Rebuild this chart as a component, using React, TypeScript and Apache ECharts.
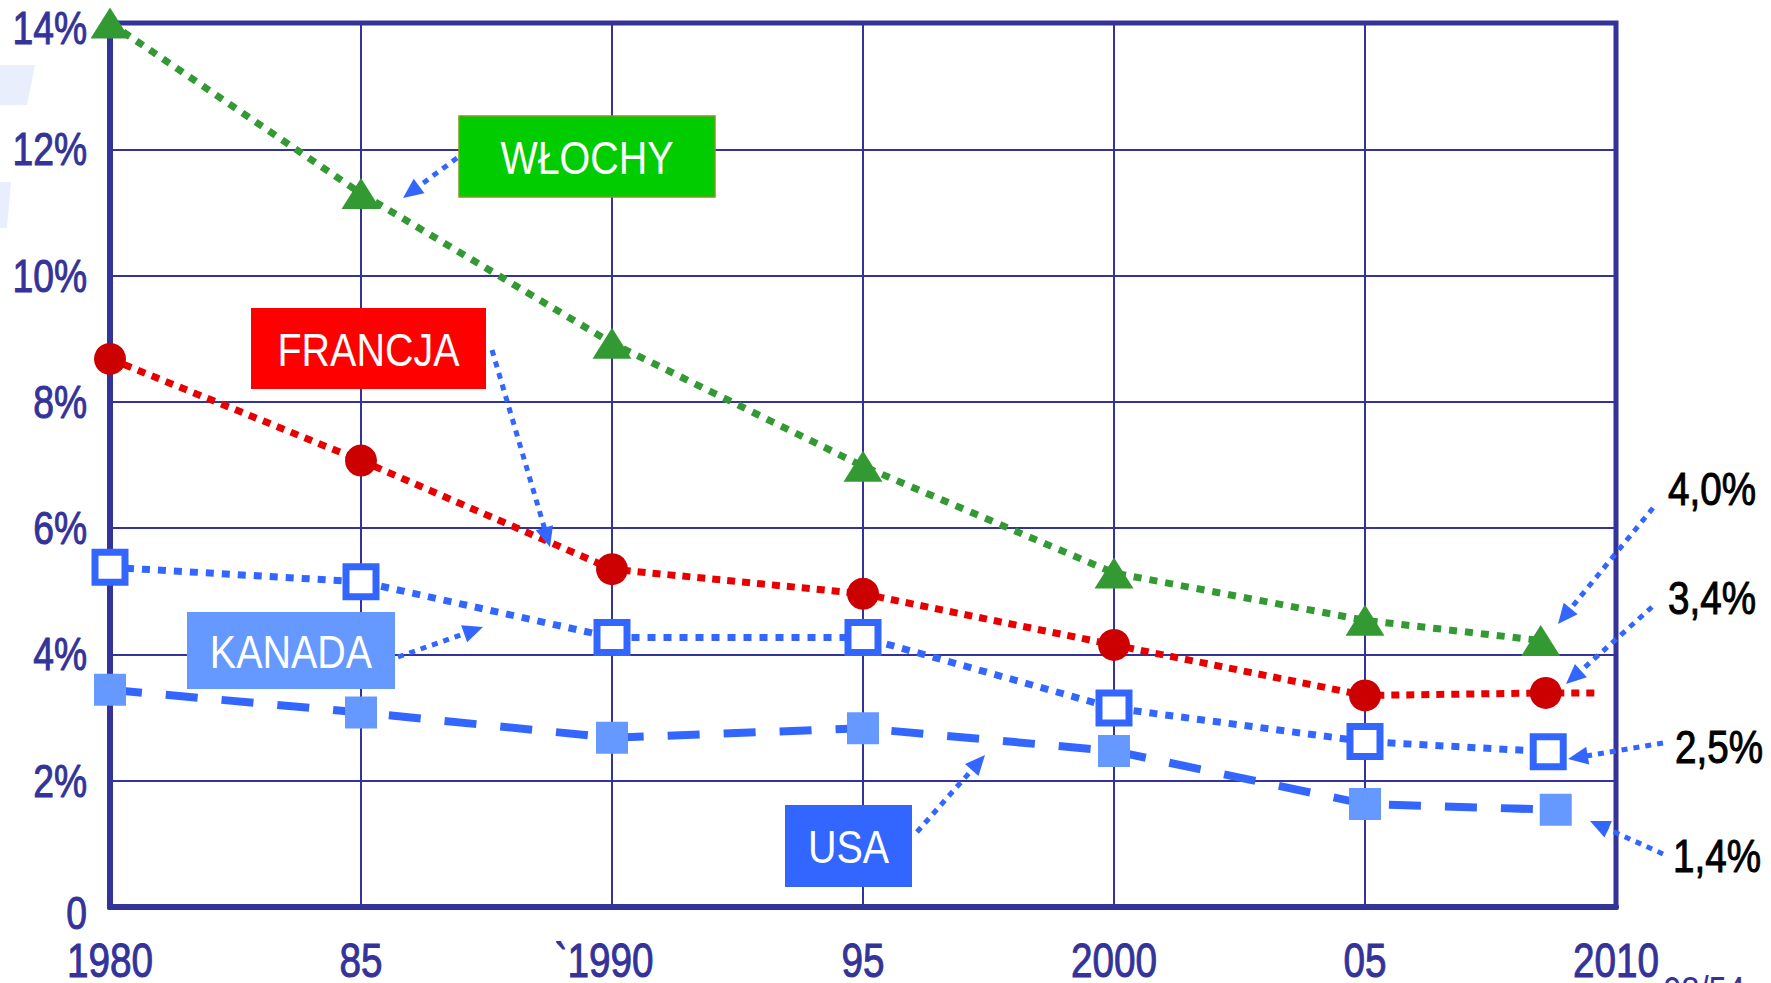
import React, { useEffect, useRef } from "react";
import * as echarts from "echarts";

// ---- data ----
const xTicks = [1980, 1985, 1990, 1995, 2000, 2005, 2010];
const xTickLabels = ["1980", "85", "`1990", "95", "2000", "05", "2010"];
const yTicks = [0, 2, 4, 6, 8, 10, 12, 14];
const yTickLabels = ["0", "2%", "4%", "6%", "8%", "10%", "12%", "14%"];

const xWlochy = [1980, 1985, 1990, 1995, 2000, 2005, 2008.5];
const wlochy = [14.0, 11.3, 8.93, 6.98, 5.29, 4.54, 4.22];

const xFrancja = [1980, 1985, 1990, 1995, 2000, 2005, 2008.6, 2009.6];
const francja = [8.68, 7.07, 5.35, 4.96, 4.15, 3.35, 3.39, 3.39];

const xKanada = [1980, 1985, 1990, 1995, 2000, 2005, 2008.65];
const kanada = [5.38, 5.15, 4.27, 4.27, 3.15, 2.62, 2.46];

const xUsa = [1980, 1985, 1990, 1995, 2000, 2005, 2008.8];
const usa = [3.44, 3.08, 2.68, 2.83, 2.47, 1.63, 1.54];

const endLabels = ["4,0%", "3,4%", "2,5%", "1,4%"];
const seriesNames = ["WŁOCHY", "FRANCJA", "KANADA", "USA"];

const FONT = "'Liberation Sans', Arial, sans-serif";
const AXIS = "#333399";
const BLUE = "#3366FF";

function pairs(xs: number[], ys: number[]) {
  return xs.map((x, i) => [x, ys[i]]);
}

function arrow(x1: number, y1: number, x2: number, y2: number) {
  const dx = x2 - x1, dy = y2 - y1;
  const len = Math.sqrt(dx * dx + dy * dy);
  const ux = dx / len, uy = dy / len;
  const hl = 20, hw = 9;
  const bx = x2 - ux * hl, by = y2 - uy * hl;
  return [
    {
      type: "line",
      z: 120,
      shape: { x1, y1, x2: bx + ux * 2, y2: by + uy * 2 },
      style: { stroke: BLUE, lineWidth: 5, lineDash: [6, 6] },
    },
    {
      type: "polygon",
      z: 121,
      shape: { points: [[x2, y2], [bx - uy * hw, by + ux * hw], [bx + uy * hw, by - ux * hw]] },
      style: { fill: BLUE },
    },
  ];
}

function txt(x: number, y: number, text: string, fill: string, fontSize: number, sx: number, align: string, bold = 0) {
  const style: any = {
    text,
    fill,
    fontSize,
    fontFamily: FONT,
    align,
    verticalAlign: "middle",
    textAlign: align,
    textVerticalAlign: "middle",
  };
  if (bold > 0) {
    style.stroke = fill;
    style.lineWidth = bold;
  }
  return { type: "text", z: 111, x, y, scaleX: sx, style };
}

function box(x: number, y: number, w: number, h: number, fill: string, text: string, border?: string) {
  return [
    {
      type: "rect",
      z: 110,
      shape: { x, y, width: w, height: h },
      style: border ? { fill, stroke: border, lineWidth: 1.5 } : { fill },
    },
    txt(x + w / 2, y + h / 2 + 1, text, "#ffffff", 47, 0.84, "center"),
  ];
}

export default function App() {
  const ref = useRef<HTMLDivElement>(null);
  useEffect(() => {
    if (!ref.current) return;
    const chart = echarts.init(ref.current, null, { renderer: "svg" });

    chart.setOption({
      animation: false,
      backgroundColor: "#ffffff",
      grid: {
        left: 110,
        right: 155,
        top: 23,
        bottom: 76,
        show: true,
        borderColor: AXIS,
        borderWidth: 5,
        backgroundColor: "transparent",
      },
      xAxis: {
        type: "value",
        min: 1980,
        max: 2010,
        interval: 5,
        axisLine: { show: true, lineStyle: { color: AXIS, width: 6 } },
        axisTick: { show: false },
        splitLine: { show: true, lineStyle: { color: AXIS, width: 2 } },
        axisLabel: { show: false },
      },
      yAxis: {
        type: "value",
        min: 0,
        max: 14,
        interval: 2,
        axisLine: { show: true, lineStyle: { color: AXIS, width: 6 } },
        axisTick: { show: false },
        splitLine: { show: true, lineStyle: { color: AXIS, width: 2 } },
        axisLabel: { show: false },
      },
      series: [
        {
          name: seriesNames[3],
          type: "line",
          data: pairs(xUsa, usa),
          symbol: "rect",
          symbolSize: 32,
          itemStyle: { color: "#6699FF" },
          lineStyle: { color: BLUE, width: 8, type: [32, 24], cap: "butt" },
          z: 3,
        },
        {
          name: seriesNames[2],
          type: "line",
          data: pairs(xKanada, kanada),
          symbol: "rect",
          symbolSize: 30,
          itemStyle: { color: "#ffffff", borderColor: BLUE, borderWidth: 7 },
          lineStyle: { color: BLUE, width: 7, type: [8, 8], cap: "butt" },
          z: 4,
        },
        {
          name: seriesNames[1],
          type: "line",
          data: xFrancja.map((x, i) =>
            i === xFrancja.length - 1 ? { value: [x, francja[i]], symbol: "none" } : [x, francja[i]]
          ),
          symbol: "circle",
          symbolSize: 32,
          itemStyle: { color: "#CC0000" },
          lineStyle: { color: "#E80000", width: 7, type: [8, 7], cap: "butt" },
          z: 5,
        },
        {
          name: seriesNames[0],
          type: "line",
          data: pairs(xWlochy, wlochy),
          symbol: "triangle",
          symbolSize: [39, 31],
          itemStyle: { color: "#339933" },
          lineStyle: { color: "#339933", width: 7, type: [8, 8], cap: "butt" },
          z: 6,
        },
      ],
    });

    // axis tick labels placed through the axes' own scales
    const axisTexts: any[] = [];
    xTicks.forEach((v, i) => {
      const p = chart.convertToPixel({ gridIndex: 0 }, [v, 0]) as number[];
      const dx = v === 1990 ? -8 : 0;
      axisTexts.push(txt(p[0] + dx, p[1] + 53, xTickLabels[i], AXIS, 49, 0.79, "center", 1));
    });
    yTicks.forEach((v, i) => {
      const p = chart.convertToPixel({ gridIndex: 0 }, [1980, v]) as number[];
      const dy = v === 14 ? 5 : v === 0 ? 6 : 0;
      axisTexts.push(txt(p[0] - 23, p[1] + dy, yTickLabels[i], AXIS, 46, 0.81, "right", 1));
    });

    const graphics: any[] = [
      { type: "polygon", z: 1, shape: { points: [[0, 65], [35, 65], [27, 105], [0, 105]] }, style: { fill: "#E8EEFB" } },
      { type: "polygon", z: 1, shape: { points: [[0, 182], [11, 182], [7, 228], [0, 228]] }, style: { fill: "#E8EEFB" } },
      ...axisTexts,
      ...box(459, 116, 256, 81, "#00CC00", seriesNames[0], "#7A9A20"),
      ...box(251, 308, 235, 81, "#FF0000", seriesNames[1]),
      ...box(187, 612, 208, 77, "#6699FF", seriesNames[2]),
      ...box(785, 805, 127, 82, BLUE, seriesNames[3]),
      ...arrow(457, 158, 403, 198),
      ...arrow(492, 350, 550, 547),
      ...arrow(398, 657, 483, 627),
      ...arrow(917, 832, 985, 755),
      ...arrow(1653, 508, 1558, 624),
      ...arrow(1652, 607, 1566, 684),
      ...arrow(1663, 743, 1568, 759),
      ...arrow(1663, 854, 1590, 821),
      txt(1668, 489, endLabels[0], "#000000", 46, 0.84, "left", 1),
      txt(1668, 598, endLabels[1], "#000000", 46, 0.84, "left", 1),
      txt(1675, 747, endLabels[2], "#000000", 46, 0.84, "left", 1),
      txt(1673, 856, endLabels[3], "#000000", 46, 0.84, "left", 1),
      {
        type: "text",
        z: 111,
        x: 1663,
        y: 971,
        scaleX: 0.82,
        style: { text: "08/54", fill: AXIS, fontSize: 40, fontFamily: FONT, textVerticalAlign: "top", verticalAlign: "top" },
      },
    ];
    chart.setOption({ graphic: { elements: graphics } });
    return () => chart.dispose();
  }, []);
  return (
    <div
      ref={ref}
      style={{ position: "fixed", left: 0, top: 0, width: "1771px", height: "983px", background: "#fff" }}
    />
  );
}
